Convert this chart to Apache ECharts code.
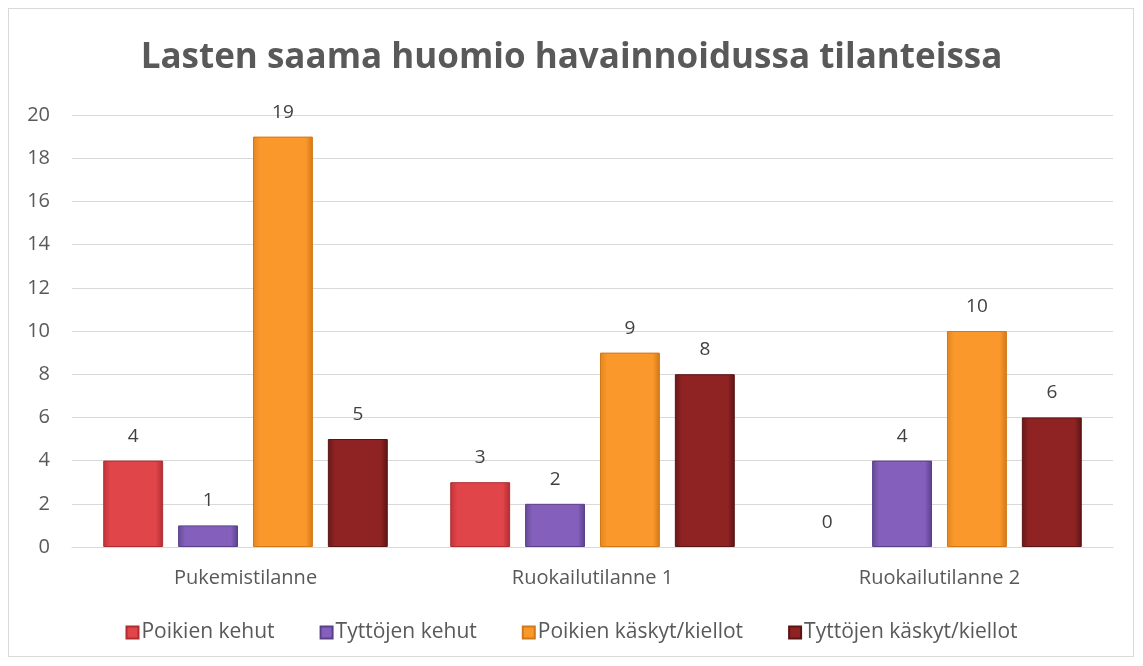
<!DOCTYPE html>
<html>
<head>
<meta charset="utf-8">
<script src="https://cdn.jsdelivr.net/npm/echarts@6/dist/echarts.min.js"></script>
<style>
  html, body { margin: 0; padding: 0; background: #fff; }
  #frame { position: absolute; left: 8px; top: 8px; width: 1126px; height: 649px; border: 1px solid #d9d9d9; box-sizing: border-box; }
  #chart { width: 1143px; height: 666px; }
</style>
</head>
<body>
<div id="frame"></div>
<div id="chart"></div>
<script>
// kategoriat ja sarjat
const categories = ["Pukemistilanne", "Ruokailutilanne 1", "Ruokailutilanne 2"];
const seriesNames = ["Poikien kehut", "Tyttöjen kehut", "Poikien käskyt/kiellot", "Tyttöjen käskyt/kiellot"];
const poikienKehut = [4, 3, 0];
const tyttojenKehut = [1, 2, 4];
const poikienKaskyt = [19, 9, 10];
const tyttojenKaskyt = [5, 8, 6];

const seriesData = [poikienKehut, tyttojenKehut, poikienKaskyt, tyttojenKaskyt];

// värit: [reuna, keski, varjo]
const colorSets = [
  ["#c2333a", "#e0454a", "#b02c31"],
  ["#654a96", "#8460bc", "#5a408a"],
  ["#e3861f", "#fa982b", "#d27817"],
  ["#6a1818", "#8f2323", "#5a1414"],
];

const grad = (c) => new echarts.graphic.LinearGradient(0, 0, 1, 0, [
  { offset: 0, color: c[0] },
  { offset: 0.12, color: c[1] },
  { offset: 0.88, color: c[1] },
  { offset: 1, color: c[2] },
]);

const chart = echarts.init(document.getElementById("chart"));

const series = seriesNames.map((name, i) => ({
  name: name,
  type: "bar",
  // nollapylväälle ei reunaviivaa
  data: seriesData[i].map((v) => (v === 0 ? { value: v, itemStyle: { borderWidth: 0 } } : v)),
  barGap: "25%",
  barCategoryGap: "18%",
  itemStyle: {
    color: grad(colorSets[i]),
    borderColor: colorSets[i][2],
    borderWidth: 1,
  },
  label: {
    show: true,
    position: "top",
    distance: 15,
    color: "#404040",
    fontSize: 19,
    fontFamily: "Open Sans",
  },
}));

chart.setOption({
  animation: false,
  title: {
    text: "Lasten saama huomio havainnoidussa tilanteissa",
    left: "center",
    top: 36,
    textStyle: {
      color: "#595959",
      fontSize: 35,
      fontWeight: "bold",
      fontFamily: "Open Sans",
    },
  },
  legend: {
    bottom: 18,
    left: "center",
    itemWidth: 12,
    itemHeight: 12,
    itemGap: 45,
    icon: "rect",
    textStyle: { color: "#595959", fontSize: 21, fontFamily: "Open Sans", padding: [0, 0, 0, -2] },
    data: seriesNames,
  },
  grid: {
    left: 72,
    right: 30,
    top: 115,
    bottom: 119,
  },
  xAxis: {
    type: "category",
    data: categories,
    axisTick: { show: false },
    axisLine: { lineStyle: { color: "#d9d9d9" } },
    axisLabel: { color: "#595959", fontSize: 20, fontFamily: "Open Sans", margin: 21 },
  },
  yAxis: {
    type: "value",
    min: 0,
    max: 20,
    interval: 2,
    axisLine: { show: false },
    axisTick: { show: false },
    splitLine: { lineStyle: { color: "#d9d9d9" } },
    axisLabel: { color: "#595959", fontSize: 20, fontFamily: "Open Sans", margin: 22 },
  },
  series: series,
});
</script>
</body>
</html>
